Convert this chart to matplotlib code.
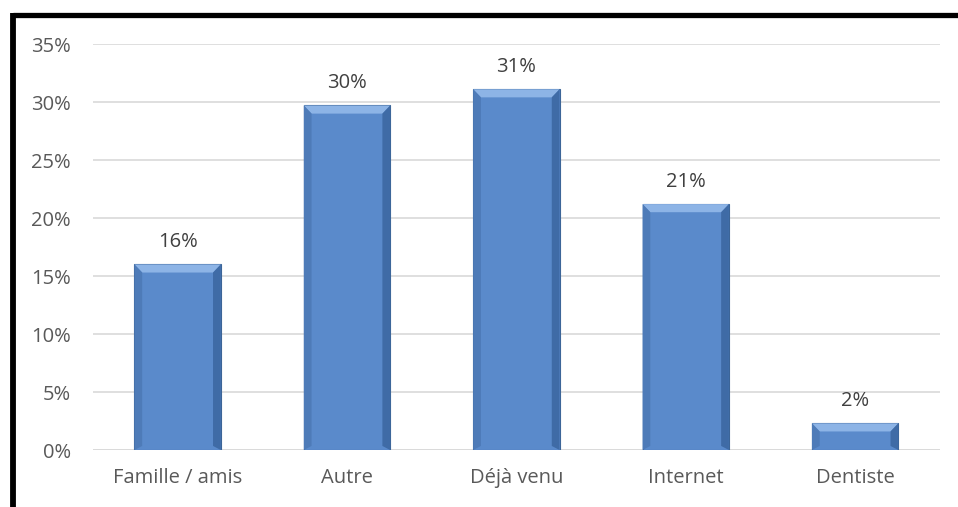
import numpy as np
import matplotlib
matplotlib.use("Agg")
import matplotlib.pyplot as plt
from matplotlib.patches import Polygon
from matplotlib.lines import Line2D
from matplotlib.ticker import PercentFormatter

categories = ["Famille / amis", "Autre", "Déjà venu", "Internet", "Dentiste"]
values = [0.160, 0.297, 0.311, 0.212, 0.023]
labels = ["16%", "30%", "31%", "21%", "2%"]
yticks = [0, 0.05, 0.10, 0.15, 0.20, 0.25, 0.30, 0.35]

plt.rcParams["font.family"] = ["Open Sans", "DejaVu Sans"]

fig = plt.figure(figsize=(9.58, 5.07), dpi=100)
ax = fig.add_axes([0.097, 0.1124, 0.884, 0.8008])

x = np.arange(len(categories))
bars = ax.bar(x, values, width=0.51, color="#5A8ACB", edgecolor="#3C6598", lw=0.8, zorder=3)

# bevel highlight on the top of each bar
bev = 0.007
for b in bars:
    x0, w, h = b.get_x(), b.get_width(), b.get_height()
    d = w * 0.09
    ax.add_patch(Polygon([(x0, h), (x0 + w, h), (x0 + w - d, h - bev), (x0 + d, h - bev)],
                         closed=True, fc="#8DB4E6", ec="none", zorder=4))
    ax.add_patch(Polygon([(x0, h), (x0 + d, h - bev), (x0 + d, bev * 0.5), (x0, 0)],
                         closed=True, fc="#4E7BB8", ec="none", zorder=4))
    ax.add_patch(Polygon([(x0 + w, h), (x0 + w - d, h - bev), (x0 + w - d, bev * 0.5), (x0 + w, 0)],
                         closed=True, fc="#3F6BA6", ec="none", zorder=4))

for xi, v, lab in zip(x, values, labels):
    ax.annotate(lab, (xi, v), xytext=(0, 9), textcoords="offset points",
                ha="center", va="bottom", fontsize=14.5, color="#404040")

ax.set_xlim(-0.5, len(categories) - 0.5)
ax.set_ylim(0, 0.35)
ax.set_yticks(yticks)
ax.yaxis.set_major_formatter(PercentFormatter(1.0, decimals=0))
ax.set_xticks(x)
ax.set_xticklabels(categories)
ax.tick_params(length=0, labelsize=14.5, labelcolor="#595959")
ax.tick_params(axis="y", pad=16)
ax.tick_params(axis="x", pad=13)
ax.grid(axis="y", color="#D9D9D9", lw=1.2, zorder=0)
for s in ax.spines.values():
    s.set_visible(False)
ax.axhline(0, color="#D9D9D9", lw=1.2, zorder=2)

# black frame on top and left
fig.add_artist(Line2D([12.5 / 958, 1], [1 - 15 / 507, 1 - 15 / 507], color="black", lw=3.8,
                      transform=fig.transFigure, solid_capstyle="butt"))
fig.add_artist(Line2D([12.5 / 958, 12.5 / 958], [0, 1 - 12.5 / 507], color="black", lw=4.2,
                      transform=fig.transFigure, solid_capstyle="butt"))

fig.savefig("out.png", dpi=100)
